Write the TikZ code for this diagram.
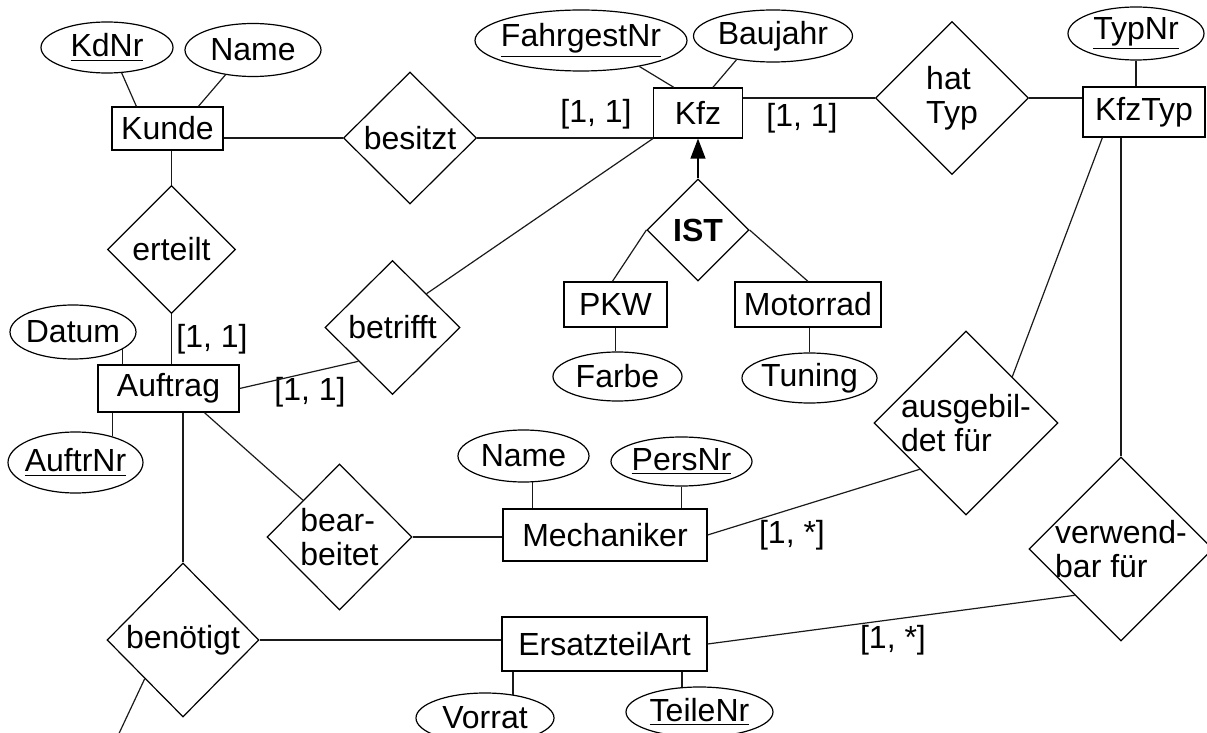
\documentclass[tikz,border=0pt]{standalone}
\usepackage{fontspec}
\setmainfont{Liberation Sans}
\usetikzlibrary{arrows.meta,calc,positioning,shapes.geometric}
\newcommand{\erfont}{\fontsize{16}{17}\selectfont}
\definecolor{erink}{HTML}{000000}
\definecolor{erwire}{HTML}{1A1A1A}
\tikzset{
  ersize/.style 2 args={minimum width=#1,minimum height=#2},
  erentity/.style={draw=erink,rectangle,line width=0.6pt,inner sep=0pt,font=\erfont},
  erattribute/.style={draw=erink,ellipse,line width=0.6pt,inner xsep=-3pt,inner ysep=0pt,font=\erfont},
  errelation/.style={draw=erink,diamond,aspect=1,line width=0.6pt,inner sep=-2pt,align=left,font=\erfont},
  eredge/.style={draw=erwire,line width=0.6pt},
  erarrow/.style={draw=erink,line width=0.6pt,-{Triangle[length=10pt,width=7.5pt]}},
  ercard/.style={font=\erfont,inner sep=0pt},
}

\begin{document}
\begin{tikzpicture}[x=0.5pt,y=-0.5pt]
        \path[use as bounding box] (0,0) rectangle (1207,733);
        % entities
        \node[erentity,ersize={55.5pt}{21.5pt}] (kunde) at (167.5,128.5) {Kunde};
        \node[erentity,ersize={44.5pt}{25pt}] (kfz) at (698,113) {Kfz};
        \node[erentity,ersize={61pt}{25pt}] (kfztyp) at (1144,112) {KfzTyp};
        \node[erentity,ersize={70.5pt}{23.5pt}] (auftrag) at (168.5,388.5) {Auftrag};
        \node[erentity,ersize={51.5pt}{22.5pt}] (pkw) at (615.5,304.5) {PKW};
        \node[erentity,ersize={73pt}{22.5pt}] (motorrad) at (808,304.5) {Motorrad};
        \node[erentity,ersize={102pt}{26pt}] (mechaniker) at (605,535) {Mechaniker};
        \node[erentity,ersize={102.5pt}{27pt}] (ersatzteil) at (604.5,644) {ErsatzteilArt};
        % attributes
        \node[erattribute,ersize={66pt}{25.5pt}] (kdnr) at (107,47.5) {\underline{KdNr}};
        \node[erattribute,ersize={68pt}{26.5pt}] (kname) at (253,50) {Name};
        \node[erattribute,ersize={106pt}{30.5pt}] (fahrgestnr) at (581,40.5) {\underline{FahrgestNr}};
        \node[erattribute,ersize={79.5pt}{26pt}] (baujahr) at (773,36) {Baujahr};
        \node[erattribute,ersize={68pt}{26.5pt}] (typnr) at (1136,33.5) {\underline{TypNr}};
        \node[erattribute,ersize={63pt}{27pt}] (datum) at (73,332) {Datum};
        \node[erattribute,ersize={67.5pt}{30.5pt}] (auftrnr) at (75.5,462.5) {\underline{AuftrNr}};
        \node[erattribute,ersize={64.5pt}{24.5pt}] (farbe) at (617.5,376.5) {Farbe};
        \node[erattribute,ersize={67.5pt}{25pt}] (tuning) at (809.5,378) {Tuning};
        \node[erattribute,ersize={65.5pt}{26pt}] (mname) at (523.5,456) {Name};
        \node[erattribute,ersize={70.5pt}{24.5pt}] (persnr) at (681.5,461.5) {\underline{PersNr}};
        \node[erattribute,ersize={69pt}{25pt}] (vorrat) at (485,718) {Vorrat};
        \node[erattribute,ersize={73.5pt}{25pt}] (teilenr) at (699.5,712) {\underline{TeileNr}};
        % relationships
        \node[errelation,ersize={66.5pt}{66pt}] (besitzt) at (410,138) {besitzt};
        \node[errelation,ersize={76.5pt}{76.5pt}] (hattyp) at (952,98) {hat\\Typ};
        \node[errelation,ersize={64pt}{64pt}] (erteilt) at (171.5,249.5) {erteilt};
        \node[errelation,ersize={67.5pt}{67pt}] (betrifft) at (392.5,327.5) {betrifft};
        \node[errelation,ersize={51pt}{51pt}] (ist) at (698,230) {\bfseries IST};
        \node[errelation,ersize={72.5pt}{73pt}] (bearbeitet) at (339.5,537) {bear-\\beitet};
        \node[errelation,ersize={76pt}{77pt}] (benoetigt) at (183,640) {benötigt};
        \node[errelation,ersize={92pt}{92pt}] (ausgebildet) at (966,423) {ausgebil-\\det für};
        \node[errelation,ersize={92pt}{92pt}] (verwendbar) at (1121,549) {verwend-\\bar für};
        % cardinalities
        \foreach \n/\p/\t in {c1/{596,114}/{[1, 1]},c2/{802,118}/{[1, 1]},c3/{212,339}/{[1, 1]},
          c4/{310,392}/{[1, 1]},c5/{792,535}/{[1, *]},c6/{893,640}/{[1, *]}}
          {\node[ercard] (\n) at (\p) {\t};}
        % connectors
        \draw[eredge] (kdnr.-60) -- ($(kunde.north west)+(25,0)$);
        \draw[eredge] (kname.-138) -- ($(kunde.north west)+(87,0)$);
        \draw[eredge] (kunde.east |- besitzt.west) -- (besitzt.west);
        \draw[eredge] (erteilt.north |- kunde.south) -- (erteilt.north);
        \draw[eredge] (besitzt.east) -- (besitzt.east -| kfz.west);
        \draw[eredge] (fahrgestnr.-24) -- ($(kfz.north west)+(21,0)$);
        \draw[eredge] (baujahr.-147) -- ($(kfz.north west)+(60,0)$);
        \draw[eredge] (hattyp.west -| kfz.east) -- (hattyp.west);
        \draw[eredge] (hattyp.east) -- (hattyp.east -| kfztyp.west);
        \draw[eredge] (typnr.south) -- (typnr.south |- kfztyp.north);
        \draw[eredge] ($(kfztyp.south west)+(20,0)$) -- ($(ausgebildet.north)!0.5!(ausgebildet.east)$);
        \draw[eredge] (verwendbar.north |- kfztyp.south) -- (verwendbar.north);
        \draw[erarrow] (ist.north) -- (kfz.south);
        \draw[eredge] (ist.west) -- ($(pkw.north west)+(49,0)$);
        \draw[eredge] (ist.east) -- (motorrad.north);
        \draw[eredge] (pkw.south) -- (pkw.south |- farbe.north);
        \draw[eredge] (tuning.north |- motorrad.south) -- (tuning.north);
        \draw[eredge] (kfz.south west) -- ($(betrifft.north)!0.5!(betrifft.east)$);
        \draw[eredge] (erteilt.south) -- (erteilt.south |- auftrag.north);
        \draw[eredge] (auftrag.east) -- ($(betrifft.west)!0.5!(betrifft.south)$);
        \draw[eredge] (datum.-19) -- (datum.-19 |- auftrag.north);
        \draw[eredge] (auftrnr.35) -- (auftrnr.35 |- auftrag.south);
        \draw[eredge] (benoetigt.north |- auftrag.south) -- (benoetigt.north);
        \draw[eredge] ($(auftrag.south west)+(107,0)$) -- ($(bearbeitet.west)!0.5!(bearbeitet.north)$);
        \draw[eredge] (bearbeitet.east) -- (bearbeitet.east -| mechaniker.west);
        \draw[eredge] (mname.-71) -- (mname.-71 |- mechaniker.north);
        \draw[eredge] (persnr.south) -- (persnr.south |- mechaniker.north);
        \draw[eredge] (mechaniker.east) -- ($(ausgebildet.west)!0.5!(ausgebildet.south)$);
        \draw[eredge] (benoetigt.east) -- (benoetigt.east -| ersatzteil.west);
        \draw[eredge] (ersatzteil.east) -- ($(verwendbar.west)!0.5!(verwendbar.south)$);
        \draw[eredge] (vorrat.40 |- ersatzteil.south) -- (vorrat.40);
        \draw[eredge] (teilenr.125 |- ersatzteil.south) -- (teilenr.125);
        \coordinate (offpage) at (115,742);
        \draw[eredge] ($(benoetigt.west)!0.5!(benoetigt.south)$) -- (offpage);
      \end{tikzpicture}
\end{document}
